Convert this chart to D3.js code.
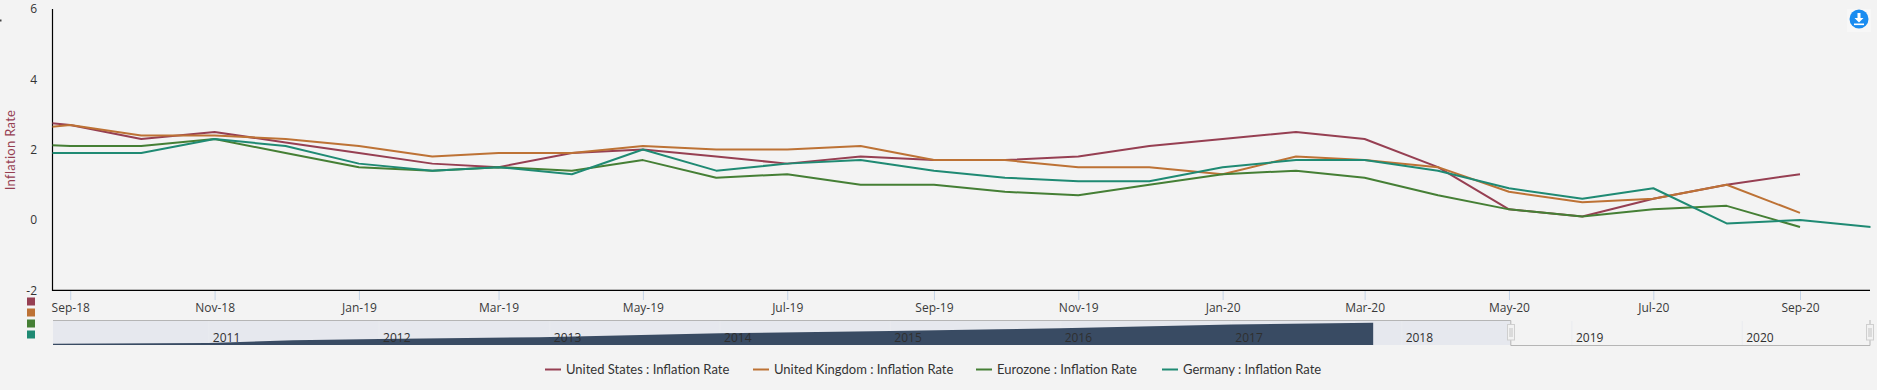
<!DOCTYPE html>
<html><head><meta charset="utf-8">
<script src="https://cdn.jsdelivr.net/npm/d3@7"></script>
<style>
html,body{margin:0;padding:0;background:#f3f3f3;overflow:hidden}
svg{display:block;font-family:"Open Sans",sans-serif}
</style></head><body>
<svg id="c" width="1877" height="390"></svg>
<script>
const months=["2018-08","2018-09","2018-10","2018-11","2018-12","2019-01","2019-02","2019-03","2019-04","2019-05","2019-06","2019-07","2019-08","2019-09","2019-10","2019-11","2019-12","2020-01","2020-02","2020-03","2020-04","2020-05","2020-06","2020-07","2020-08","2020-09","2020-10"];
const usValues=[2.9,2.7,2.3,2.5,2.2,1.9,1.6,1.5,1.9,2.0,1.8,1.6,1.8,1.7,1.7,1.8,2.1,2.3,2.5,2.3,1.5,0.3,0.1,0.6,1.0,1.3,null];
const ukValues=[2.5,2.7,2.4,2.4,2.3,2.1,1.8,1.9,1.9,2.1,2.0,2.0,2.1,1.7,1.7,1.5,1.5,1.3,1.8,1.7,1.5,0.8,0.5,0.6,1.0,0.2,null];
const euValues=[2.2,2.1,2.1,2.3,1.9,1.5,1.4,1.5,1.4,1.7,1.2,1.3,1.0,1.0,0.8,0.7,1.0,1.3,1.4,1.2,0.7,0.3,0.1,0.3,0.4,-0.2,null];
const deValues=[1.9,1.9,1.9,2.3,2.1,1.6,1.4,1.5,1.3,2.0,1.4,1.6,1.7,1.4,1.2,1.1,1.1,1.5,1.7,1.7,1.4,0.9,0.6,0.9,-0.1,0.0,-0.2];
const seriesNames=["United States : Inflation Rate","United Kingdom : Inflation Rate","Eurozone : Inflation Rate","Germany : Inflation Rate"];
const seriesColors=["#963f52","#bd7235","#457f35","#1f8a73"];
const yTicks=[-2,0,2,4,6];
const xTickMonths=["2018-09","2018-11","2019-01","2019-03","2019-05","2019-07","2019-09","2019-11","2020-01","2020-03","2020-05","2020-07","2020-09"];
const navYears=["2011","2012","2013","2014","2015","2016","2017","2018","2019","2020"];
const navDates=["2010-02-01","2011-01-01","2011-07-01","2012-01-01","2012-12-10","2014-01-01","2015-01-01","2015-08-20","2016-01-01","2017-01-01","2017-11-01"];
const navValues=[5,8,19,24,32,48,57,64,68,84,91];

const parseM=d3.utcParse("%Y-%m"), parseD=d3.utcParse("%Y-%m-%d");
const dates=months.map(parseM);
const svg=d3.select("#c");
const x=d3.scaleUtc().domain([new Date(Date.UTC(2018,7,24,12)),new Date(Date.UTC(2020,9,1))]).range([52.5,1871]);
const y=d3.scaleLinear().domain([-2,6]).range([290.3,8.8]);
const nx=d3.scaleUtc().domain([parseD("2010-02-01"),parseD("2020-10-01")]).range([53,1870]);
const ny=d3.scaleLinear().domain([0,100]).range([345,320.5]);

svg.append("defs").append("clipPath").attr("id","plot").append("rect")
 .attr("x",52.5).attr("y",0).attr("width",1818).attr("height",290);

// x axis ticks + labels
const xa=svg.append("g").attr("transform","translate(0,290)").call(
  d3.axisBottom(x).tickValues(xTickMonths.map(parseM)).tickFormat(d3.utcFormat("%b-%y")).tickSize(10).tickPadding(3));
xa.select(".domain").remove();
xa.selectAll("line").attr("stroke","#c3d3e6");
xa.selectAll("text").attr("font-size",12).attr("fill","#3a3a3a").attr("font-family",'"Open Sans",sans-serif');

// y axis
const ya=svg.append("g").attr("transform","translate(44,0)").call(
  d3.axisLeft(y).tickValues(yTicks).tickSize(0).tickPadding(0).tickFormat(d3.format("d")));
ya.select(".domain").remove();
ya.selectAll("text").attr("font-size",12).attr("fill","#333").attr("dx",-7).attr("font-family",'"Open Sans",sans-serif')
  .text(d=>String(d));

// axis lines
svg.append("path").attr("d",d3.line()([[x.range()[0],9],[x.range()[0],290.3],[1870,290.3]]))
  .attr("fill","none").attr("stroke","#000").attr("stroke-width",1.2);

svg.append("text").attr("transform","translate(15,150) rotate(-90)").attr("text-anchor","middle")
  .attr("font-size",13).attr("font-family","Lato,sans-serif").attr("letter-spacing",0.3).attr("fill",seriesColors[0]).text("Inflation Rate");
svg.append("rect").attr("x",0).attr("y",19.5).attr("width",1.5).attr("height",2).attr("fill","#444");

// series
const allSeries=[usValues,ukValues,euValues,deValues];
const line=d3.line().defined(d=>d[1]!==null).x(d=>x(d[0])).y(d=>y(d[1]));
allSeries.forEach((vals,i)=>{
  svg.append("path").attr("clip-path","url(#plot)")
    .attr("d",line(vals.map((v,j)=>[dates[j],v])))
    .attr("fill","none").attr("stroke",seriesColors[i]).attr("stroke-width",2).attr("stroke-linejoin","round");
});

// colour squares
svg.selectAll("rect.sw").data(seriesColors).enter().append("rect").attr("class","sw")
  .attr("x",27).attr("y",(d,i)=>297.5+i*11).attr("width",8).attr("height",8).attr("fill",d=>d);

// navigator
const selX=nx(new Date(Date.UTC(2018,7,23)));
svg.append("rect").attr("x",nx.range()[0]).attr("y",321).attr("width",selX-nx.range()[0]).attr("height",24).attr("fill","#e6e8ee");
const nyears=navYears.map(s=>d3.utcParse("%Y")(s));
svg.selectAll("line.ng").data(nyears).enter().append("line").attr("class","ng")
  .attr("x1",d=>nx(d)).attr("x2",d=>nx(d)).attr("y1",321).attr("y2",345).attr("stroke","#e9ebef").attr("stroke-width",1);
const area=d3.area().x(d=>nx(d[0])).y0(ny(0)).y1(d=>ny(d[1]));
svg.append("path").attr("d",area(navDates.map((s,i)=>[parseD(s),navValues[i]]))).attr("fill","#394b63");
svg.selectAll("text.ny").data(nyears).enter().append("text").attr("class","ny")
  .attr("x",d=>nx(d)+4).attr("y",341.5).attr("font-size",12).attr("fill","#2f2f2f").text(d=>d3.utcFormat("%Y")(d));
svg.append("path").attr("d",d3.line()([[nx.range()[0],320.5],[selX,320.5],[selX,345.5],[nx.range()[1],345.5],[nx.range()[1],320]]))
  .attr("fill","none").attr("stroke","#b5b5b5").attr("stroke-width",1);
[selX,nx.range()[1]].forEach(hx=>{
  const g=svg.append("g").attr("transform",`translate(${Math.round(hx)},0)`);
  g.append("rect").attr("x",-3.5).attr("y",324.5).attr("width",7).attr("height",15.5).attr("fill","#f2f2f2").attr("stroke","#cfcfcf").attr("stroke-width",1);
  g.append("line").attr("x1",-1).attr("x2",-1).attr("y1",328).attr("y2",337).attr("stroke","#c4c4c4");
  g.append("line").attr("x1",1).attr("x2",1).attr("y1",328).attr("y2",337).attr("stroke","#c4c4c4");
});

// legend
const legendX=[545,753,976,1162];
seriesNames.forEach((n,i)=>{
  svg.append("line").attr("x1",legendX[i]).attr("x2",legendX[i]+16).attr("y1",369.5).attr("y2",369.5).attr("stroke",seriesColors[i]).attr("stroke-width",2);
  svg.append("text").attr("x",legendX[i]+21).attr("y",374).attr("font-size",13).attr("font-family","Lato,sans-serif").attr("fill","#333").text(n);
});

// download icon
const ic=svg.append("g").attr("transform","translate(1859,19)");
ic.append("rect").attr("x",-12).attr("y",-10).attr("width",24).attr("height",23).attr("fill","#f7f7f7");
ic.append("circle").attr("r",9.5).attr("fill","#1a8cf0");
ic.append("path").attr("d","M-1.5,-6H1.5V-1H4.5L0,3.5L-4.5,-1H-1.5Z").attr("fill","#fff");
ic.append("rect").attr("x",-5).attr("y",4.5).attr("width",10).attr("height",1.6).attr("fill","#fff");
</script>
</body></html>
